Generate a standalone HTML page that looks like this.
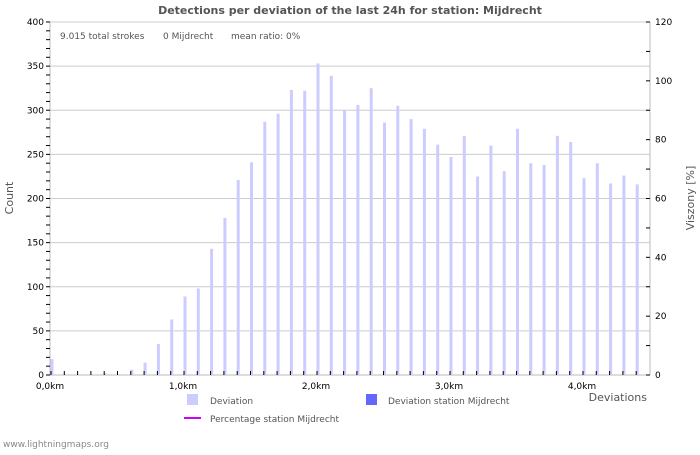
<!DOCTYPE html>
<html><head><meta charset="utf-8"><style>
html,body{margin:0;padding:0;background:#fff;}
svg text{font-family:"DejaVu Sans","Liberation Sans",sans-serif;}
</style></head><body>
<svg id="s" width="700" height="450" xmlns="http://www.w3.org/2000/svg">
<rect width="700" height="450" fill="#fff"/>
<text x="350" y="14" text-anchor="middle" font-size="11" font-weight="bold" fill="#555">Detections per deviation of the last 24h for station: Mijdrecht</text>
<g id="grid"></g>
<line x1="50" y1="22" x2="50" y2="375" stroke="#bbb"/>
<line x1="650" y1="22" x2="650" y2="375" stroke="#bbb"/>
<line x1="50" y1="375" x2="650" y2="375" stroke="#bbb"/>
<g id="bars"></g>
<g id="ticks" stroke="#000"></g>
<g id="labels" font-size="9" fill="#000"></g>
<text x="60" y="39" font-size="9" fill="#555">9.015 total strokes</text>
<text x="163" y="39" font-size="9" fill="#555">0 Mijdrecht</text>
<text x="231" y="39" font-size="9" fill="#555">mean ratio: 0%</text>
<text transform="translate(13,198) rotate(-90)" text-anchor="middle" font-size="11" fill="#555">Count</text>
<text transform="translate(694,198) rotate(-90)" text-anchor="middle" font-size="11" fill="#555">Viszony [%]</text>
<text x="647" y="401" text-anchor="end" font-size="11" fill="#555">Deviations</text>
<rect x="187" y="394" width="11" height="11" fill="#ccccff"/>
<text x="210" y="404" font-size="9" fill="#555">Deviation</text>
<rect x="366" y="394" width="11" height="11" fill="#6666ff"/>
<text x="388" y="404" font-size="9" fill="#555">Deviation station Mijdrecht</text>
<line x1="184" y1="418" x2="201" y2="418" stroke="#cc00ff" stroke-width="2"/>
<text x="210" y="422" font-size="9" fill="#555">Percentage station Mijdrecht</text>
<text x="3" y="447" font-size="9" fill="#888">www.lightningmaps.org</text>
</svg>
<script>
var NS="http://www.w3.org/2000/svg";
function el(p,t,a,txt){var e=document.createElementNS(NS,t);for(var k in a)e.setAttribute(k,a[k]);if(txt!=null)e.textContent=txt;document.getElementById(p).appendChild(e);}
var vals=[18,0,0,0,2,1,6,14,35,63,89,98,143,178,221,241,287,296,323,322,353,339,300,306,325,286,305,290,279,261,247,271,225,260,231,279,240,238,271,264,223,240,217,226,216];
var k=353/400;
for(var v=50;v<=400;v+=50){var y=375-v*k;if(v<400||true)el("grid","line",{x1:50,x2:650,y1:y,y2:y,stroke:"#ccc"});
el("labels","text",{x:44,y:y+3,"text-anchor":"end"},String(v));}
el("labels","text",{x:44,y:378,"text-anchor":"end"},"0");
for(var v=0;v<=400;v+=10){var y=375-v*k;el("ticks","line",{x1:46,x2:50,y1:y,y2:y});}
for(var p=0;p<=120;p+=10){var y=375-p*353/120;el("ticks","line",{x1:646,x2:650,y1:y,y2:y});if(p%20==0)el("labels","text",{x:655,y:y+3},String(p));}
for(var i=0;i<vals.length;i++){var x=50+13.3*i;var h=vals[i]*k;
if(h>0)el("bars","rect",{x:x+0.5,y:375-h,width:3,height:h,fill:"#ccccff"});
el("ticks","line",{x1:x+1,x2:x+1,y1:371,y2:375});}
var km=["0,0km","1,0km","2,0km","3,0km","4,0km"];
for(var j=0;j<5;j++)el("labels","text",{x:50+133*j,y:389,"text-anchor":"middle"},km[j]);
</script>
</body></html>
